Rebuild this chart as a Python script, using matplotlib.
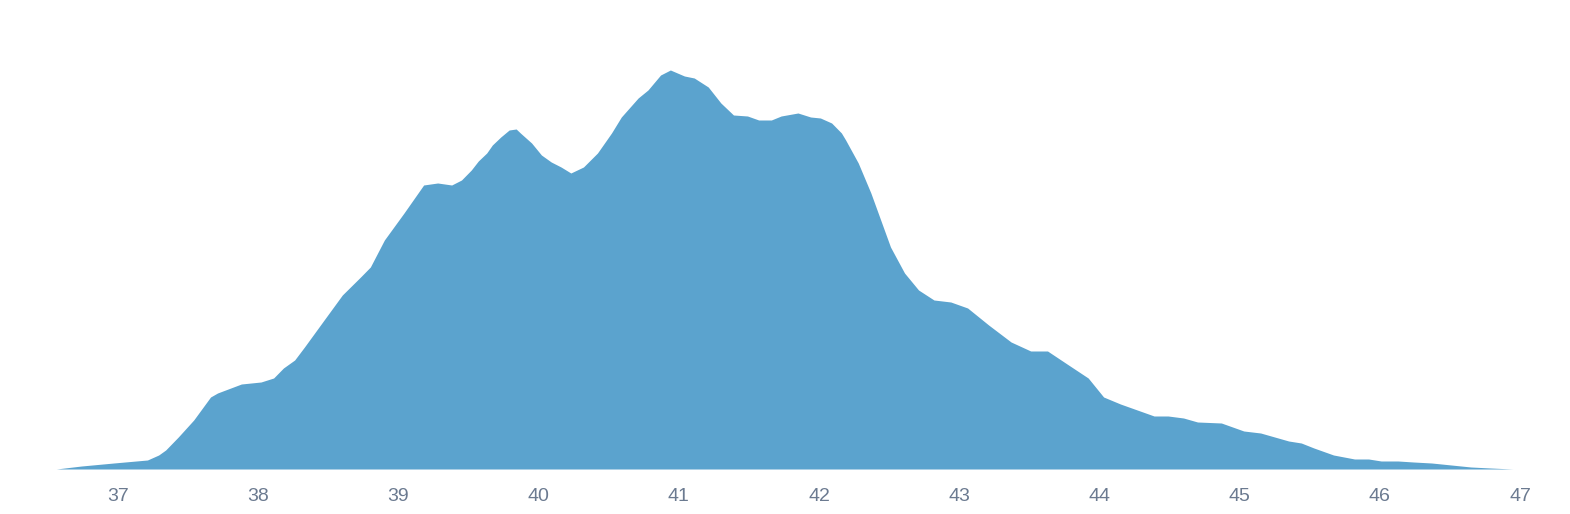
import matplotlib
matplotlib.use("Agg")
import matplotlib.pyplot as plt

x_vals = [36.56, 36.74, 36.97, 37.21, 37.29, 37.34, 37.43, 37.54, 37.66, 37.71,
          37.88, 38.02, 38.11, 38.18, 38.26, 38.33, 38.47, 38.60, 38.73, 38.80,
          38.90, 39.04, 39.18, 39.28, 39.38, 39.45, 39.52, 39.57, 39.63, 39.67,
          39.73, 39.79, 39.84, 39.87, 39.95, 40.02, 40.09, 40.16, 40.23, 40.32,
          40.42, 40.52, 40.59, 40.71, 40.78, 40.87, 40.94, 41.04, 41.11, 41.21,
          41.30, 41.39, 41.49, 41.57, 41.66, 41.73, 41.85, 41.94, 42.01, 42.09,
          42.16, 42.19, 42.28, 42.37, 42.51, 42.61, 42.71, 42.82, 42.94, 43.06,
          43.21, 43.37, 43.51, 43.63, 43.78, 43.92, 44.03, 44.15, 44.23, 44.39,
          44.49, 44.60, 44.70, 44.87, 45.03, 45.15, 45.35, 45.44, 45.53, 45.67,
          45.82, 45.92, 46.01, 46.13, 46.24, 46.37, 46.51, 46.65, 46.79, 46.95]
density = [0, 3, 6, 9, 14, 19, 32, 49, 72, 76,
           85, 87, 91, 101, 109, 122, 149, 174, 192, 202,
           229, 256, 284, 286, 284, 289, 299, 308, 316, 324,
           332, 339, 340, 336, 326, 314, 307, 302, 296, 302,
           316, 336, 352, 371, 379, 394, 399, 393, 391, 382,
           366, 354, 353, 349, 349, 353, 356, 352, 351, 346,
           336, 329, 306, 276, 222, 196, 179, 169, 167, 161,
           144, 127, 118, 118, 104, 91, 72, 65, 61, 53,
           53, 51, 47, 46, 38, 36, 28, 26, 21, 14,
           10, 10, 8, 8, 7, 6, 4, 2, 1, 0]
tick_vals = [37, 38, 39, 40, 41, 42, 43, 44, 45, 46, 47]

plt.rcParams['font.family'] = ['Liberation Sans', 'DejaVu Sans']
fig = plt.figure(figsize=(15.7, 5.14), dpi=100)
ax = fig.add_axes([47.9 / 1570, 45 / 514, (1533 - 46.9) / 1570, 420 / 514])
ax.fill_between(x_vals, density, 0, color='#5BA3CE', linewidth=0)
ax.set_xlim(36.5, 47.1)
ax.set_ylim(0, 420)
ax.set_xticks(tick_vals)
ax.set_xticklabels([str(t) for t in tick_vals])
ax.tick_params(axis='x', length=0, pad=14, labelsize=14, labelcolor='#6B7A90')
ax.set_yticks([])
for s in ax.spines.values():
    s.set_visible(False)
fig.savefig('out.png', dpi=100)
